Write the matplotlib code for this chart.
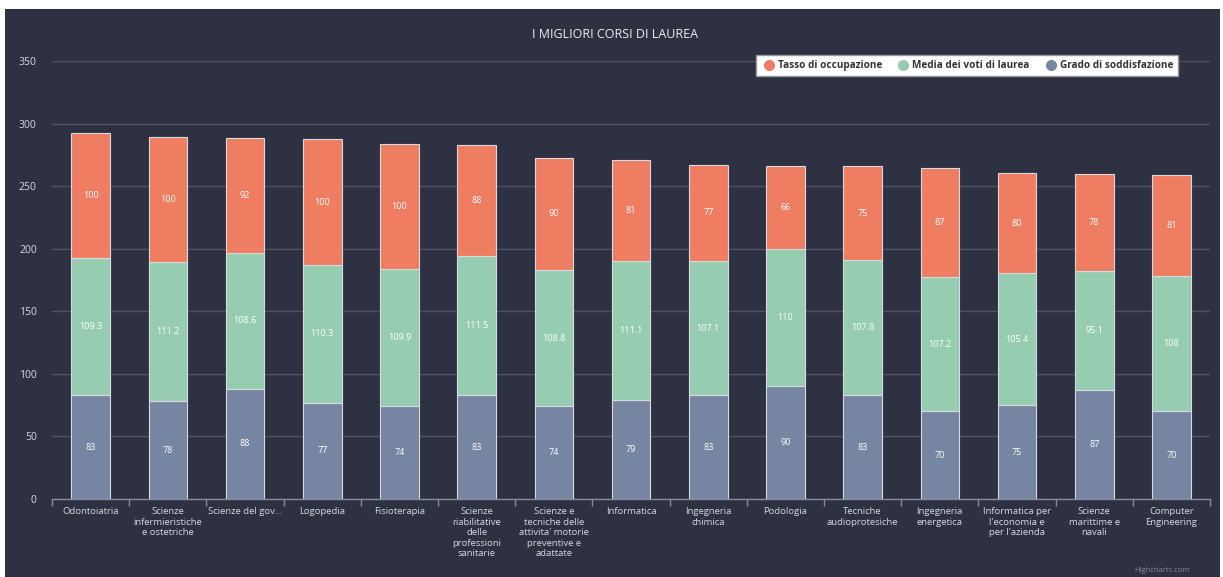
import matplotlib
matplotlib.use("Agg")
import matplotlib.pyplot as plt
from matplotlib.lines import Line2D
import numpy as np

categories = [
    "Odontoiatria",
    "Scienze\ninfermieristiche\ne ostetriche",
    "Scienze del gov...",
    "Logopedia",
    "Fisioterapia",
    "Scienze\nriabilitative\ndelle\nprofessioni\nsanitarie",
    "Scienze e\ntecniche delle\nattivita' motorie\npreventive e\nadattate",
    "Informatica",
    "Ingegneria\nchimica",
    "Podologia",
    "Tecniche\naudioprotesiche",
    "Ingegneria\nenergetica",
    "Informatica per\nl'economia e\nper l'azienda",
    "Scienze\nmarittime e\nnavali",
    "Computer\nEngineering",
]
soddisfazione = [83, 78, 88, 77, 74, 83, 74, 79, 83, 90, 83, 70, 75, 87, 70]
media_voti = [109.3, 111.2, 108.6, 110.3, 109.9, 111.5, 108.8, 111.1, 107.1, 110, 107.8, 107.2, 105.4, 95.1, 108]
occupazione = [100, 100, 92, 100, 100, 88, 90, 81, 77, 66, 75, 87, 80, 78, 81]

series_names = ["Tasso di occupazione", "Media dei voti di laurea", "Grado di soddisfazione"]
y_ticks = [0, 50, 100, 150, 200, 250, 300, 350]
title = "I MIGLIORI CORSI DI LAUREA"

plt.rcParams['font.family'] = ['Open Sans', 'DejaVu Sans']

BG = "#2e3142"
C_RED = "#ee7d62"
C_GREEN = "#96cdb1"
C_BLUE = "#7685a1"
TXT = "#d8d8e0"
GRID = "#4f5262"

W, H = 1223, 577
fig = plt.figure(figsize=(W / 100, H / 100), dpi=100)
fig.patch.set_facecolor("white")
fig.add_artist(plt.Rectangle((5 / W, 0), (1220 - 5) / W, (H - 9) / H,
                             transform=fig.transFigure, facecolor=BG, edgecolor="none", zorder=-10))

ax = fig.add_axes([52 / W, (H - 499) / H, (1210 - 52) / W, (499 - 61) / H])
ax.set_facecolor(BG)
ax.patch.set_alpha(0)

x = np.arange(len(categories))
bw = 0.5
b1 = np.array(soddisfazione)
b2 = b1 + np.array(media_voti)
ec = "#d9d9df"
ax.bar(x, soddisfazione, bw, color=C_BLUE, edgecolor=ec, linewidth=0.8, zorder=3)
ax.bar(x, media_voti, bw, bottom=b1, color=C_GREEN, edgecolor=ec, linewidth=0.8, zorder=3)
ax.bar(x, occupazione, bw, bottom=b2, color=C_RED, edgecolor=ec, linewidth=0.8, zorder=3)

def fmt(v):
    return ("%g" % v)

for i in range(len(categories)):
    for bottom, val in ((0, soddisfazione[i]), (b1[i], media_voti[i]), (b2[i], occupazione[i])):
        ax.text(x[i], bottom + val / 2, fmt(val), ha="center", va="center",
                color="white", fontsize=6.5, zorder=5)

ax.set_xlim(-0.5, len(categories) - 0.5)
ax.set_ylim(0, 350)
ax.set_yticks(y_ticks)
ax.set_yticklabels([str(t) for t in y_ticks])
ax.tick_params(axis="y", length=0, colors=TXT, labelsize=7.5, pad=11)
ax.yaxis.grid(True, color=GRID, linewidth=1, zorder=0)
ax.set_axisbelow(True)

ax.set_xticks(x)
ax.set_xticklabels(categories, fontsize=6.8, color=TXT, linespacing=1.2, va="top")
ax.tick_params(axis="x", length=0, pad=6)
ax.set_xticks(np.arange(len(categories) + 1) - 0.5, minor=True)
ax.tick_params(axis="x", which="minor", length=5, color="#8a8d99", width=1)

for s in ("top", "right", "left"):
    ax.spines[s].set_visible(False)
ax.spines["bottom"].set_color("#8a8d99")
ax.spines["bottom"].set_linewidth(1)

fig.text(615 / W, 1 - 35 / H, title, ha="center", va="center", color="#eeeeee", fontsize=9)

handles = [Line2D([], [], marker="o", linestyle="none", markersize=7, color=c, markeredgecolor=c)
           for c in (C_RED, C_GREEN, C_BLUE)]
leg = ax.legend(handles, series_names, ncol=3, loc="upper right",
                bbox_to_anchor=(1183 / W, 1 - 50 / H), bbox_transform=fig.transFigure,
                frameon=True, fancybox=False, facecolor="white", edgecolor="#999999",
                framealpha=1, prop={"size": 7.2, "weight": "bold"}, handletextpad=0.1,
                columnspacing=1.3, borderpad=0.5, handlelength=1.6)
leg.get_frame().set_linewidth(1)
for t in leg.get_texts():
    t.set_color("#333333")

fig.text(1190 / W, 1 - 570 / H, "Highcharts.com", ha="right", va="center", color="#888899", fontsize=5.5)

fig.savefig("out.png", dpi=100, facecolor=fig.get_facecolor())
